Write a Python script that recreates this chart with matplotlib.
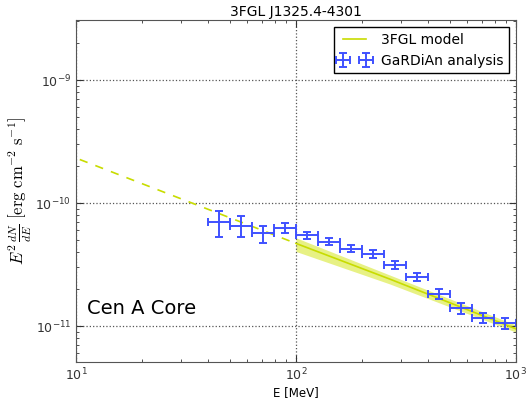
import matplotlib
matplotlib.use("Agg")
import matplotlib.pyplot as plt

# GaRDiAn analysis points (energy in MeV, flux in erg cm^-2 s^-1)
e_center = [44.7, 56.2, 70.8, 89.1, 112.2, 141.3, 177.8, 223.9, 281.8, 354.8, 446.7, 562.3, 707.9, 891.3]
e_low = [39.8, 50.1, 63.1, 79.4, 100.0, 125.9, 158.5, 199.5, 251.2, 316.2, 398.1, 501.2, 631.0, 794.3]
e_high = [50.1, 63.1, 79.4, 100.0, 125.9, 158.5, 199.5, 251.2, 316.2, 398.1, 501.2, 631.0, 794.3, 1000.0]
flux = [6.97e-11, 6.50e-11, 5.68e-11, 6.23e-11, 5.49e-11, 4.82e-11, 4.25e-11,
        3.85e-11, 3.13e-11, 2.52e-11, 1.82e-11, 1.39e-11, 1.16e-11, 1.05e-11]
flux_up = [8.66e-11, 7.84e-11, 6.54e-11, 6.88e-11, 5.84e-11, 5.19e-11, 4.58e-11,
           4.12e-11, 3.36e-11, 2.68e-11, 1.99e-11, 1.53e-11, 1.28e-11, 1.17e-11]
flux_lo = [5.32e-11, 5.32e-11, 4.76e-11, 5.68e-11, 5.13e-11, 4.53e-11, 3.98e-11,
           3.57e-11, 2.89e-11, 2.34e-11, 1.67e-11, 1.25e-11, 1.05e-11, 9.44e-12]

# 3FGL model
model_e_ext = [10.4, 100.0]
model_ext = [2.26e-10, 4.70e-11]
model_e = [100.0, 267.0, 1000.0]
model_flux = [4.70e-11, 2.41e-11, 9.50e-12]
model_up = [5.22e-11, 2.60e-11, 1.02e-11]
model_lo = [4.04e-11, 2.20e-11, 8.93e-12]

model_color = "#c8dc00"
data_color = "#3f51ff"

fig = plt.figure(figsize=(5.28, 4.03), dpi=100)
ax = fig.add_axes([0.144, 0.1017, 0.833, 0.8483])

ax.fill_between(model_e, model_lo, model_up, color="#e3ef6e", alpha=0.85, lw=0)
ax.plot(model_e, model_flux, color=model_color, lw=1.2, label="3FGL model")
ax.plot(model_e_ext, model_ext, color=model_color, lw=1.2, ls=(0, (5, 5)))

xerr = [[c - lo for c, lo in zip(e_center, e_low)], [hi - c for c, hi in zip(e_center, e_high)]]
yerr = [[f - lo for f, lo in zip(flux, flux_lo)], [hi - f for f, hi in zip(flux, flux_up)]]
ax.errorbar(e_center, flux, xerr=xerr, yerr=yerr, fmt="none", ecolor=data_color,
            elinewidth=1.4, capsize=3, capthick=1.4, label="GaRDiAn analysis")

ax.set_xscale("log")
ax.set_yscale("log")
ax.set_xlim(10, 1000)
ax.set_ylim(5.1e-12, 3.07e-9)

ax.grid(True, which="major", ls=":", color="#555555", lw=0.9)
ax.tick_params(which="both", direction="in", top=True, right=True, labelsize=9, colors="#333333")
ax.tick_params(which="major", length=5)
ax.tick_params(which="minor", length=2.5)
for s in ax.spines.values():
    s.set_color("#555555")

ax.set_title("3FGL J1325.4-4301", fontsize=10, pad=3)
ax.set_xlabel("E [MeV]", fontsize=8.5, labelpad=2)
ax.set_ylabel(r"$E^2\,\frac{dN}{dE}\ \left[\mathrm{erg\ cm^{-2}\ s^{-1}}\right]$",
              fontsize=12, math_fontfamily="cm", labelpad=1)

ax.text(0.025, 0.158, "Cen A Core", transform=ax.transAxes, fontsize=14,
        va="center", ha="left")

leg = ax.legend(loc="upper right", fontsize=10, fancybox=False, framealpha=1,
                edgecolor="black", borderpad=0.4, handlelength=2.2, numpoints=2)
leg.get_frame().set_linewidth(1.0)

fig.savefig("out.png", dpi=100)
